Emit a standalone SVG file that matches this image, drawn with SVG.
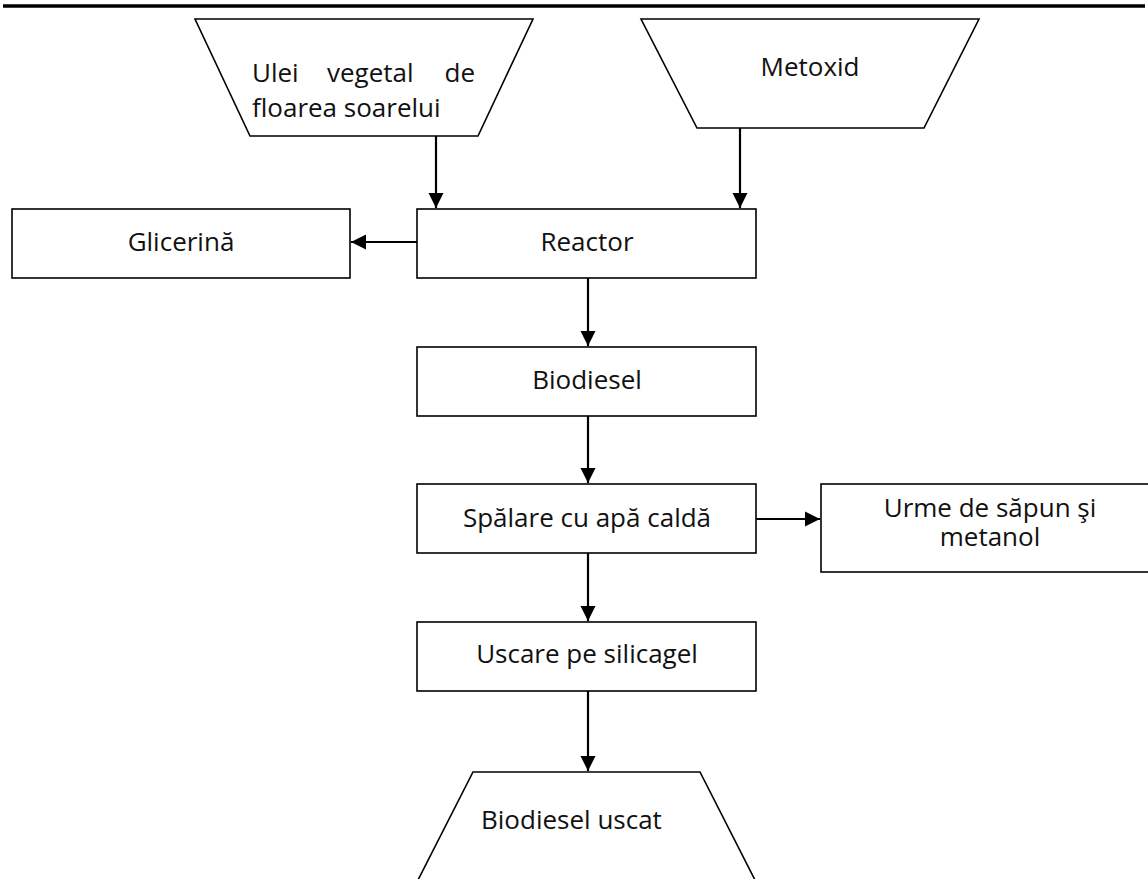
<svg xmlns="http://www.w3.org/2000/svg" width="1148" height="879" viewBox="0 0 1148 879">
<style>
.shape{fill:#fff;stroke:#000;stroke-width:1.6}
.lbl{font-family:"Open Sans","Noto Sans",sans-serif;font-size:26px;fill:#111}
.c{text-anchor:middle}
.conn{stroke:#000;stroke-width:2.2;fill:none;marker-end:url(#arr)}
</style>
<defs>
<marker id="arr" markerUnits="userSpaceOnUse" markerWidth="16" markerHeight="16" viewBox="0 0 16 16" refX="15" refY="8" orient="auto">
<path d="M0,0.5 L15,8 L0,15.5 Z" fill="#000"/>
</marker>
</defs>
<rect width="1148" height="879" fill="#fff"/>
<line x1="3" y1="6" x2="1145" y2="6" stroke="#000" stroke-width="3.5"/>

<g id="ulei">
<polygon class="shape" points="195,19 533,19 478,136 250,136"/>
<text class="lbl" x="252" y="82">Ulei</text>
<text class="lbl" x="327" y="82">vegetal</text>
<text class="lbl" x="475" y="82" text-anchor="end">de</text>
<text class="lbl" x="252" y="117">floarea soarelui</text>
</g>
<g id="metoxid">
<polygon class="shape" points="641,19 979,19 924,128 697,128"/>
<text class="lbl c" x="810" y="76">Metoxid</text>
</g>
<g id="glicerina">
<rect class="shape" x="12" y="209" width="338" height="69"/>
<text class="lbl c" x="181" y="251">Glicerină</text>
</g>
<g id="reactor">
<rect class="shape" x="417" y="209" width="339" height="69"/>
<text class="lbl c" x="587" y="251">Reactor</text>
</g>
<g id="biodiesel">
<rect class="shape" x="417" y="347" width="339" height="69"/>
<text class="lbl c" x="587" y="389">Biodiesel</text>
</g>
<g id="spalare">
<rect class="shape" x="417" y="484" width="339" height="69"/>
<text class="lbl c" x="587" y="527">Spălare cu apă caldă</text>
</g>
<g id="urme">
<rect class="shape" x="821" y="484" width="340" height="88"/>
<text class="lbl c" x="990" y="517">Urme de săpun şi</text>
<text class="lbl c" x="990" y="546">metanol</text>
</g>
<g id="uscare">
<rect class="shape" x="417" y="622" width="339" height="69"/>
<text class="lbl c" x="587" y="663">Uscare pe silicagel</text>
</g>
<g id="biodiesel-uscat">
<polygon class="shape" points="473,772 700,772 756,882 417,882"/>
<text class="lbl" x="481" y="829">Biodiesel uscat</text>
</g>

<g id="connectors">
<line class="conn" x1="436" y1="136" x2="436" y2="208"/>
<line class="conn" x1="740" y1="128" x2="740" y2="208"/>
<line class="conn" x1="417" y1="242" x2="351" y2="242"/>
<line class="conn" x1="588" y1="278" x2="588" y2="346"/>
<line class="conn" x1="588" y1="416" x2="588" y2="483"/>
<line class="conn" x1="756" y1="519" x2="820" y2="519"/>
<line class="conn" x1="588" y1="553" x2="588" y2="621"/>
<line class="conn" x1="588" y1="691" x2="588" y2="771"/>
</g>
</svg>
